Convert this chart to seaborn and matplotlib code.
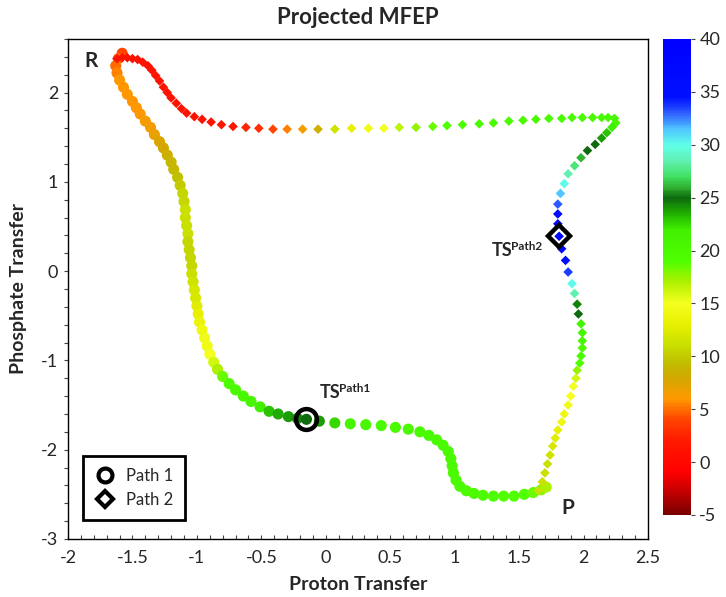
import matplotlib
matplotlib.use("Agg")

import matplotlib.pyplot as plt
import pandas as pd
import seaborn as sns
from matplotlib.cm import ScalarMappable
from matplotlib.colors import LinearSegmentedColormap, Normalize
from matplotlib.lines import Line2D
from matplotlib.ticker import FormatStrFormatter, MultipleLocator


# path 1 (circles): R -> TS1 -> P
path1_x = [
    -1.58, -1.61, -1.63, -1.62, -1.60, -1.57, -1.54, -1.50, -1.47, -1.44,
    -1.40, -1.36, -1.33, -1.29, -1.26, -1.23, -1.20, -1.18, -1.15, -1.13,
    -1.11, -1.10, -1.09, -1.09, -1.08, -1.07, -1.07, -1.06, -1.05, -1.04,
    -1.04, -1.03, -1.02, -1.01, -1.00, -0.99, -0.98, -0.96, -0.94, -0.92,
    -0.90, -0.87, -0.84, -0.80, -0.75, -0.70, -0.64, -0.58, -0.51, -0.44,
    -0.37, -0.29, -0.22, -0.15, -0.05, 0.07, 0.19, 0.31, 0.43, 0.54,
    0.64, 0.73, 0.80, 0.86, 0.91, 0.95, 0.97, 0.98, 0.99, 1.01,
    1.04, 1.09, 1.15, 1.22, 1.30, 1.38, 1.46, 1.54, 1.61, 1.67,
    1.71,
]
path1_y = [
    2.44, 2.38, 2.30, 2.22, 2.14, 2.06, 1.98, 1.90, 1.83, 1.76,
    1.68, 1.61, 1.53, 1.45, 1.38, 1.30, 1.22, 1.14, 1.05, 0.96,
    0.87, 0.78, 0.69, 0.60, 0.51, 0.42, 0.33, 0.24, 0.15, 0.06,
    -0.03, -0.12, -0.21, -0.30, -0.39, -0.48, -0.57, -0.66, -0.75, -0.84,
    -0.93, -1.02, -1.10, -1.18, -1.26, -1.33, -1.40, -1.46, -1.52, -1.57,
    -1.60, -1.63, -1.65, -1.66, -1.68, -1.70, -1.71, -1.72, -1.73, -1.75,
    -1.77, -1.80, -1.84, -1.89, -1.95, -2.02, -2.10, -2.18, -2.26, -2.34,
    -2.41, -2.46, -2.49, -2.51, -2.52, -2.52, -2.52, -2.50, -2.48, -2.45,
    -2.42,
]
path1_energy = [
    4.0, 5.0, 5.0, 5.5, 6.0, 6.0, 6.0, 6.0, 6.0, 6.0,
    6.5, 6.5, 7.0, 7.5, 8.0, 8.5, 9.0, 9.0, 9.5, 10.0,
    10.5, 10.5, 11.0, 11.0, 11.0, 11.0, 10.5, 10.5, 10.5, 10.5,
    11.0, 11.5, 12.0, 12.0, 12.5, 13.0, 13.5, 14.0, 14.5, 14.5,
    15.0, 16.0, 17.0, 18.5, 19.5, 20.0, 20.5, 21.0, 22.0, 23.0,
    23.5, 24.0, 24.5, 25.0, 24.0, 22.5, 21.0, 20.5, 20.0, 20.0,
    20.0, 20.0, 20.0, 20.0, 20.0, 20.0, 20.0, 20.0, 20.0, 20.0,
    20.0, 19.5, 19.5, 19.5, 19.5, 19.0, 19.0, 19.0, 18.5, 18.0,
    17.0,
]

# path 2 (diamonds): R -> TS2 -> P
path2_x = [
    -1.62, -1.58, -1.54, -1.50, -1.46, -1.42, -1.38, -1.35, -1.32, -1.29,
    -1.26, -1.23, -1.20, -1.16, -1.12, -1.08, -1.02, -0.96, -0.89, -0.81,
    -0.72, -0.62, -0.52, -0.41, -0.30, -0.18, -0.06, 0.07, 0.20, 0.33,
    0.45, 0.57, 0.70, 0.83, 0.94, 1.06, 1.19, 1.30, 1.42, 1.53,
    1.63, 1.73, 1.83, 1.91, 1.99, 2.07, 2.14, 2.19, 2.24, 2.25,
    2.22, 2.18, 2.14, 2.09, 2.03, 1.98, 1.93, 1.88, 1.85, 1.82,
    1.80, 1.80, 1.80, 1.81, 1.83, 1.86, 1.88, 1.91, 1.93, 1.95,
    1.96, 1.98, 1.99, 1.99, 1.99, 1.98, 1.97, 1.95, 1.94, 1.92,
    1.90, 1.88, 1.85, 1.83, 1.80, 1.78, 1.76, 1.74, 1.72, 1.70,
    1.68, 1.65,
]
path2_y = [
    2.38, 2.39, 2.39, 2.38, 2.37, 2.34, 2.30, 2.25, 2.19, 2.13,
    2.06, 2.00, 1.94, 1.88, 1.82, 1.77, 1.73, 1.70, 1.67, 1.64,
    1.62, 1.61, 1.60, 1.59, 1.59, 1.59, 1.59, 1.59, 1.60, 1.60,
    1.60, 1.61, 1.61, 1.62, 1.63, 1.64, 1.65, 1.66, 1.68, 1.69,
    1.70, 1.71, 1.71, 1.72, 1.72, 1.72, 1.72, 1.72, 1.71, 1.66,
    1.61, 1.55, 1.49, 1.42, 1.35, 1.27, 1.18, 1.09, 0.98, 0.87,
    0.75, 0.64, 0.53, 0.39, 0.25, 0.12, -0.01, -0.14, -0.25, -0.37,
    -0.48, -0.59, -0.69, -0.78, -0.86, -0.95, -1.03, -1.11, -1.20, -1.29,
    -1.40, -1.50, -1.60, -1.69, -1.78, -1.87, -1.96, -2.06, -2.16, -2.26,
    -2.36, -2.46,
]
path2_energy = [
    1.0, 1.0, 1.0, 1.0, 1.0, 1.0, 1.0, 1.0, 1.0, 1.0,
    1.0, 1.0, 1.0, 1.0, 1.0, 1.0, 1.0, 1.0, 1.0, 1.5,
    1.5, 2.5, 3.0, 4.0, 5.5, 6.5, 8.5, 11.5, 13.0, 14.5,
    15.0, 16.5, 17.5, 18.5, 19.0, 19.5, 20.0, 20.0, 20.0, 20.0,
    20.0, 20.0, 20.0, 20.0, 20.0, 20.0, 20.0, 20.0, 20.5, 21.0,
    22.0, 23.0, 24.0, 25.0, 25.0, 26.0, 27.5, 28.5, 30.0, 31.5,
    33.0, 35.5, 37.0, 38.0, 37.0, 36.0, 33.5, 30.0, 28.5, 24.5,
    25.0, 21.5, 21.0, 20.5, 20.0, 19.5, 19.0, 17.5, 16.0, 15.0,
    15.0, 14.5, 14.0, 14.0, 13.0, 12.5, 12.0, 11.5, 11.0, 11.0,
    11.0, 11.0,
]

ts1_x, ts1_y = -0.15, -1.66
ts2_x, ts2_y = 1.81, 0.39

cbar_ticks = [-5, 0, 5, 10, 15, 20, 25, 30, 35, 40]
legend_labels = ["Path 1", "Path 2"]

# colour stops
stop_values = [-5, -3, -1, 2, 4, 5, 6, 8, 9.5, 11, 13, 15, 17, 19, 22,
               23.5, 25, 26, 27, 28.5, 30, 31.5, 33, 34.5, 40]
stop_colors = ["#7a0000", "#c00000", "#ff0000", "#ff1a00", "#ff4500",
               "#ff7000", "#ff9a00", "#d0a800", "#c0c000", "#c8e000",
               "#e8f000", "#f4ff20", "#b0f000", "#50ff00", "#40f000",
               "#20b000", "#0e6a0e", "#30b030", "#40e060", "#60f0b0",
               "#60ffe8", "#50c8ff", "#3060ff", "#0010ff", "#0000ff"]

vmin, vmax = -5, 40
cmap = LinearSegmentedColormap.from_list(
    "mfep",
    [((v - vmin) / (vmax - vmin), c) for v, c in zip(stop_values, stop_colors)],
)
norm = Normalize(vmin, vmax)

sns.set_theme(style="white")
plt.rcParams["font.family"] = ["Lato", "DejaVu Sans"]
plt.rcParams["axes.unicode_minus"] = False

df1 = pd.DataFrame({"x": path1_x, "y": path1_y, "E": path1_energy})
df2 = pd.DataFrame({"x": path2_x, "y": path2_y, "E": path2_energy})

fig = plt.figure(figsize=(7.26, 5.97), dpi=100)
ax = fig.add_axes([0.0937, 0.0972, 0.7989, 0.8375])
cax = fig.add_axes([0.9132, 0.1374, 0.0386, 0.7973])

sns.scatterplot(
    data=df1, x="x", y="y", hue="E", palette=cmap, hue_norm=norm,
    marker="o", s=64, linewidth=0, legend=False, ax=ax,
)
sns.scatterplot(
    data=df2, x="x", y="y", hue="E", palette=cmap, hue_norm=norm,
    marker="D", s=24, linewidth=0, legend=False, ax=ax,
)

# transition state markers
ax.plot(ts1_x, ts1_y, marker="o", ms=15, mfc="none", mec="black", mew=3.2)
ax.plot(ts2_x, ts2_y, marker="D", ms=11, mfc="none", mec="black", mew=3.2)

ax.set_xlim(-2, 2.5)
ax.set_ylim(-3, 2.6)
ax.xaxis.set_major_locator(MultipleLocator(0.5))
ax.xaxis.set_minor_locator(MultipleLocator(0.1))
ax.yaxis.set_major_locator(MultipleLocator(1))
ax.yaxis.set_minor_locator(MultipleLocator(0.2))
ax.xaxis.set_major_formatter(FormatStrFormatter("%g"))
ax.yaxis.set_major_formatter(FormatStrFormatter("%g"))
ax.tick_params(axis="x", which="both", direction="in", bottom=True,
               length=3, width=0.8, color="#444444", labelsize=13, pad=8)
ax.tick_params(axis="y", which="both", direction="out", left=True,
               length=3, width=0.8, color="#444444", labelsize=13, pad=4)
for side in ["top", "right", "bottom", "left"]:
    ax.spines[side].set_color("black")
    ax.spines[side].set_linewidth(1.0)

ax.set_xlabel("Proton Transfer", fontsize=14, fontweight="bold", labelpad=7)
ax.set_ylabel("Phosphate Transfer", fontsize=14, fontweight="bold", labelpad=10)
ax.set_title("Projected MFEP", fontsize=16, fontweight="bold", pad=11)

# end point / TS labels
ax.text(-1.87, 2.29, "R", fontsize=15, fontweight="bold")
ax.text(1.83, -2.72, "P", fontsize=15, fontweight="bold")
ax.annotate("TS", (-0.045, -1.42), fontsize=13, fontweight="bold")
ax.annotate("Path1", (-0.045, -1.42), xytext=(13.5, 4.5), textcoords="offset points",
            fontsize=8.5, fontweight="bold")
ax.annotate("TS", (1.29, 0.165), fontsize=13, fontweight="bold")
ax.annotate("Path2", (1.29, 0.165), xytext=(13.5, 4.5), textcoords="offset points",
            fontsize=8.5, fontweight="bold")

handles = [
    Line2D([], [], marker="o", ls="", mfc="white", mec="black", mew=3, ms=10),
    Line2D([], [], marker="D", ls="", mfc="white", mec="black", mew=3, ms=8),
]
leg = ax.legend(
    handles, legend_labels, loc="lower left", bbox_to_anchor=(0.026, 0.038),
    borderaxespad=0, fontsize=12, frameon=True, fancybox=False,
    framealpha=1, edgecolor="black", handletextpad=0.7, borderpad=0.7,
    labelspacing=0.5, handlelength=1.2,
)
leg.get_frame().set_linewidth(2)

cbar = fig.colorbar(ScalarMappable(norm=norm, cmap=cmap), cax=cax, ticks=cbar_ticks)
cbar.outline.set_visible(False)
cbar.ax.tick_params(labelsize=13, length=3, width=0.8, color="#444444", pad=3)

fig.savefig("out.png", dpi=100)
